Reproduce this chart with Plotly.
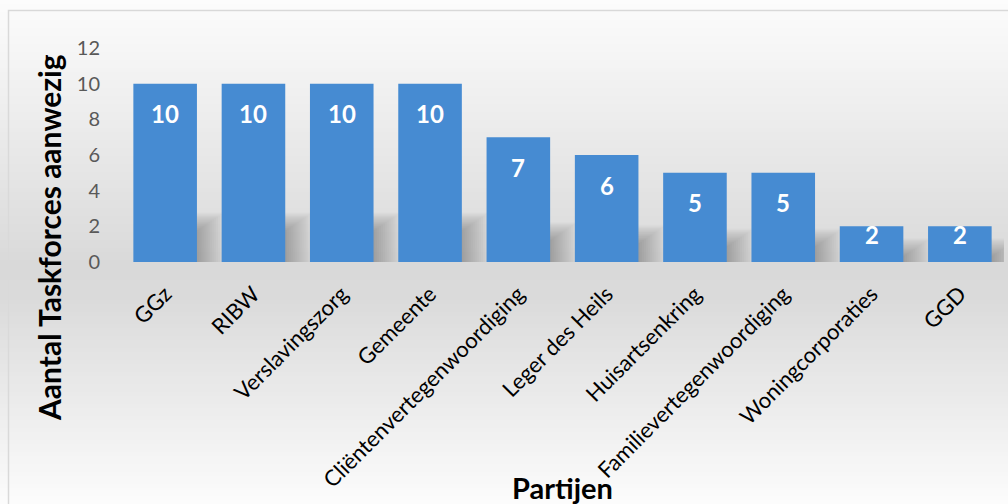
import plotly.graph_objects as go

categories = ["GGz", "RIBW", "Verslavingszorg", "Gemeente", "Cliëntenvertegenwoordiging",
              "Leger des Heils", "Huisartsenkring", "Familievertegenwoordiging",
              "Woningcorporaties", "GGD"]
values = [10, 10, 10, 10, 7, 6, 5, 5, 2, 2]
y_ticks = [0, 2, 4, 6, 8, 10, 12]

W, H = 1008, 504
L, R, T, B = 121, 4, 48, 242
PW, PH = W - L - R, H - T - B

def px(x):
    return (x - L) / PW

def py(y):
    return (H - B - y) / PH

FONT = "Lato, Calibri, sans-serif"
BAR = "#468bd2"

fig = go.Figure()
fig.add_trace(go.Bar(x=categories, y=values, marker=dict(color=BAR, line=dict(width=0)),
                     hoverinfo="x+y"))

shapes = []
# background vertical gradient
stops = [(0, 252), (10, 251), (265, 217), (295, 218), (504, 252)]
def grey(yy):
    for (y0, c0), (y1, c1) in zip(stops[:-1], stops[1:]):
        if y0 <= yy <= y1:
            t = (yy - y0) / (y1 - y0) if y1 > y0 else 0
            return round(c0 + (c1 - c0) * t)
    return 252
step = 4
for yy in range(0, H, step):
    c = grey(yy + step / 2)
    shapes.append(dict(type="rect", xref="paper", yref="paper", layer="below",
                       x0=px(-5), x1=px(W + 5), y0=py(yy + step + 0.5), y1=py(yy),
                       fillcolor=f"rgb({c},{c},{c})", line=dict(width=0)))
# border
shapes.append(dict(type="rect", xref="paper", yref="paper", layer="below",
                   x0=px(8.5), x1=px(W + 10), y0=py(H + 10), y1=py(10.5),
                   fillcolor="rgba(0,0,0,0)", line=dict(color="#d9d9d9", width=1.5)))
# soft bar shadows
for i, v in enumerate(values):
    sh = v * 0.18
    for k in range(14):
        shapes.append(dict(type="rect", xref="x", yref="y", layer="below",
                           x0=i, x1=i + 0.36 + 0.02 + k * 0.022,
                           y0=0, y1=sh + k * 0.075,
                           fillcolor="rgba(0,0,0,0.021)", line=dict(width=0)))

annotations = []
for c, v in zip(categories, values):
    annotations.append(dict(x=c, y=v, xref="x", yref="y", text=f"<b>{v}</b>",
                            showarrow=False, yshift=-30 if v >= 5 else -8,
                            font=dict(family=FONT, size=24, color="white")))
annotations.append(dict(x=px(49), y=py(238), xref="paper", yref="paper",
                        text="<b>Aantal Taskforces aanwezig</b>", textangle=-90,
                        showarrow=False, xanchor="center", yanchor="middle",
                        font=dict(family=FONT, size=30, color="black")))
annotations.append(dict(x=px(562), y=py(488), xref="paper", yref="paper",
                        text="<b>Partijen</b>", showarrow=False,
                        xanchor="center", yanchor="middle",
                        font=dict(family=FONT, size=29, color="black")))

fig.update_layout(
    width=W, height=H,
    margin=dict(l=L, r=R, t=T, b=B, autoexpand=False),
    paper_bgcolor="white", plot_bgcolor="rgba(0,0,0,0)",
    bargap=0.28, showlegend=False,
    shapes=shapes, annotations=annotations,
    xaxis=dict(type="category", range=[-0.5, len(categories) - 0.5], tickangle=-45,
               showgrid=False, showline=False,
               zeroline=False, ticks="", automargin=False, ticklabelstandoff=14,
               tickfont=dict(family=FONT, size=22, color="black")),
    yaxis=dict(range=[0, 12], tickvals=y_ticks, showgrid=False, showline=False,
               zeroline=False, ticks="", automargin=False, ticklabelstandoff=20,
               tickfont=dict(family=FONT, size=20, color="#595959")),
)

fig.write_html("out.html")
